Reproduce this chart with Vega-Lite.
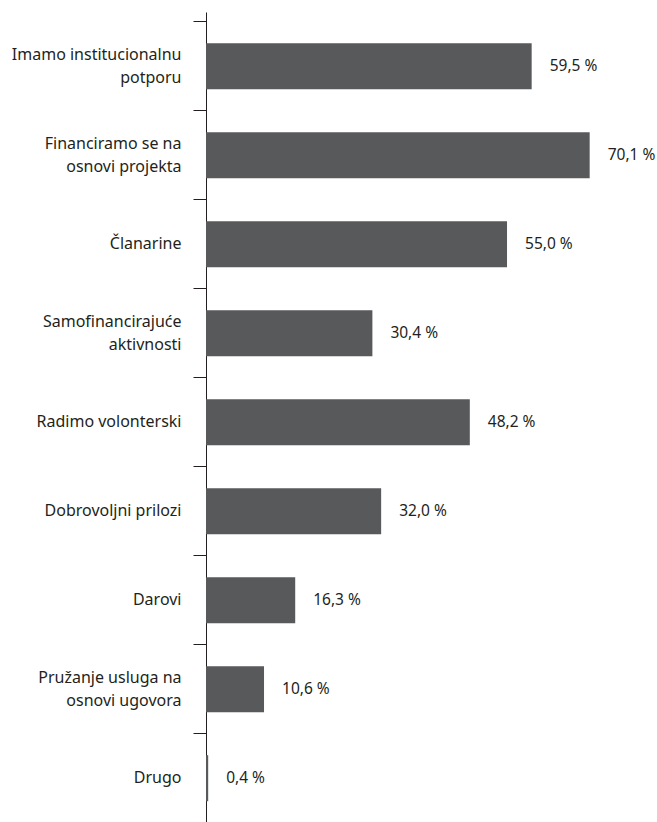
{
  "$schema": "https://vega.github.io/schema/vega-lite/v6.json",
  "autosize": {"type": "none"},
  "padding": {"left": 206, "top": 12, "right": 0, "bottom": 0},
  "width": 451,
  "height": 810,
  "background": "white",
  "config": {"view": {"stroke": null}},
  "data": {
    "values": [
      {"cat": "Imamo institucionalnu|potporu", "value": 59.5, "lbl": "59,5 %"},
      {"cat": "Financiramo se na|osnovi projekta", "value": 70.1, "lbl": "70,1 %"},
      {"cat": "Članarine", "value": 55.0, "lbl": "55,0 %"},
      {"cat": "Samofinancirajuće|aktivnosti", "value": 30.4, "lbl": "30,4 %"},
      {"cat": "Radimo volonterski", "value": 48.2, "lbl": "48,2 %"},
      {"cat": "Dobrovoljni prilozi", "value": 32.0, "lbl": "32,0 %"},
      {"cat": "Darovi", "value": 16.3, "lbl": "16,3 %"},
      {"cat": "Pružanje usluga na|osnovi ugovora", "value": 10.6, "lbl": "10,6 %"},
      {"cat": "Drugo", "value": 0.4, "lbl": "0,4 %"}
    ]
  },
  "encoding": {
    "y": {
      "field": "cat",
      "type": "nominal",
      "sort": null,
      "scale": {"paddingInner": 0.483, "paddingOuter": 0.292, "align": 0.6},
      "axis": {
        "title": null,
        "bandPosition": -0.467,
        "tickSize": 13,
        "tickColor": "#231f20",
        "domainColor": "#231f20",
        "tickWidth": 1,
        "domainWidth": 1,
        "labelPadding": 12,
        "labelFont": "Noto Sans",
        "labelFontSize": 16,
        "labelColor": "#231f20",
        "labelLineHeight": 23,
        "labelLimit": 250,
        "labelOffset": {"condition": {"test": "indexof(datum.value, '|') >= 0", "value": -11.5}, "value": 0},
        "labelExpr": "split(datum.label, '|')"
      }
    },
    "x": {
      "field": "value",
      "type": "quantitative",
      "scale": {"domain": [0, 82.4], "nice": false},
      "axis": null
    }
  },
  "layer": [
    {"mark": {"type": "bar", "color": "#58595b"}},
    {
      "mark": {"type": "text", "align": "left", "baseline": "middle", "dx": 18, "font": "Noto Sans", "fontSize": 15.5, "color": "#231f20"},
      "encoding": {"text": {"field": "lbl"}}
    }
  ]
}
